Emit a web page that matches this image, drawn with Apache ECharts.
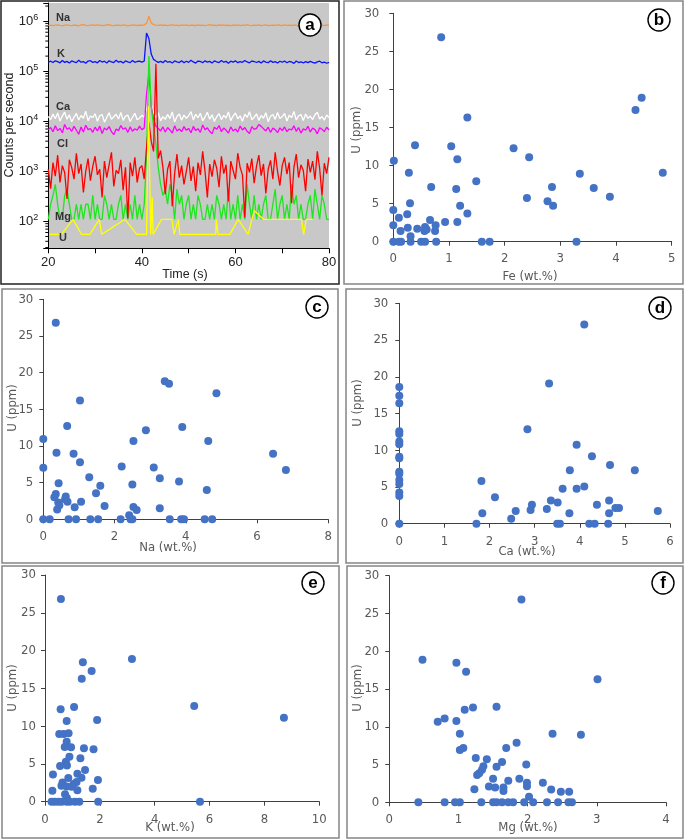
<!DOCTYPE html>
<html><head><meta charset="utf-8">
<script src="https://cdn.jsdelivr.net/npm/echarts@6/dist/echarts.min.js"></script>
<style>html,body{margin:0;padding:0;background:#fff}#c{width:685px;height:839px}</style>
</head><body><div id="c"></div>
<script>
// ---------- Panel a: time-resolved signals (counts per second), sampled every 0.5 s from 20 s ----------
const T0 = 20, DT = 0.5;
const naCounts = [
820e3,835e3,812e3,828e3,840e3,818e3,806e3,830e3,845e3,822e3,
815e3,832e3,826e3,808e3,838e3,850e3,824e3,812e3,829e3,836e3,
818e3,842e3,830e3,809e3,825e3,837e3,846e3,821e3,813e3,834e3,
827e3,815e3,840e3,832e3,806e3,822e3,838e3,829e3,817e3,833e3,
826e3,845e3,900e3,1250e3,920e3,850e3,832e3,818e3,840e3,826e3,
835e3,812e3,828e3,846e3,819e3,830e3,808e3,837e3,824e3,842e3,
816e3,831e3,827e3,809e3,843e3,822e3,835e3,814e3,828e3,846e3,
820e3,833e3,811e3,839e3,826e3,845e3,817e3,829e3,808e3,836e3,
824e3,840e3,815e3,830e3,819e3,847e3,826e3,812e3,835e3,821e3,
838e3,816e3,829e3,843e3,810e3,825e3,834e3,819e3,846e3,827e3,
813e3,839e3,822e3,830e3,817e3,844e3,826e3,808e3,835e3,823e3,
841e3,818e3,829e3,833e3,812e3,845e3,824e3,831e3,816e3,838e3,822e3];
const kCounts = [
152e3,158e3,149e3,161e3,155e3,147e3,163e3,150e3,157e3,145e3,
160e3,153e3,148e3,165e3,151e3,156e3,144e3,159e3,162e3,150e3,
155e3,147e3,163e3,152e3,158e3,146e3,161e3,154e3,149e3,166e3,
151e3,157e3,145e3,160e3,153e3,148e3,164e3,150e3,156e3,159e3,
152e3,158e3,580e3,450e3,220e3,172e3,160e3,150e3,157e3,148e3,
163e3,151e3,156e3,146e3,160e3,154e3,149e3,162e3,147e3,158e3,
150e3,165e3,153e3,145e3,159e3,156e3,148e3,161e3,152e3,157e3,
146e3,160e3,154e3,149e3,163e3,151e3,157e3,144e3,158e3,152e3,
161e3,148e3,155e3,150e3,164e3,153e3,147e3,159e3,156e3,149e3,
157e3,145e3,160e3,152e3,148e3,162e3,150e3,155e3,146e3,158e3,
151e3,159e3,147e3,156e3,153e3,143e3,160e3,149e3,154e3,146e3,
155e3,148e3,157e3,150e3,145e3,153e3,158e3,147e3,152e3,144e3,150e3];
const caCounts = [
12.5e3,10.8e3,13.9e3,11.2e3,14.6e3,10.1e3,12.8e3,15.2e3,11.0e3,13.4e3,
9.8e3,12.1e3,14.3e3,10.6e3,13.0e3,11.5e3,15.8e3,10.3e3,12.7e3,11.8e3,
14.1e3,10.0e3,12.9e3,13.6e3,9.6e3,11.9e3,14.8e3,10.9e3,12.3e3,13.8e3,
11.1e3,15.0e3,10.4e3,12.6e3,13.2e3,9.9e3,12.0e3,14.4e3,10.7e3,11.6e3,
13.1e3,12.2e3,18.0e3,60.0e3,22.0e3,15.0e3,11.8e3,14.9e3,10.2e3,12.4e3,
10.9e3,13.7e3,11.3e3,15.4e3,9.7e3,12.5e3,14.0e3,10.5e3,13.3e3,11.4e3,
12.9e3,15.6e3,10.6e3,13.8e3,11.7e3,14.5e3,10.2e3,12.2e3,15.1e3,11.0e3,
13.5e3,9.9e3,12.4e3,14.2e3,10.8e3,13.1e3,11.6e3,15.3e3,10.3e3,12.7e3,
14.6e3,11.2e3,12.8e3,10.0e3,13.9e3,11.9e3,15.5e3,10.7e3,12.0e3,14.1e3,
10.4e3,13.0e3,11.5e3,14.8e3,9.8e3,12.6e3,13.7e3,10.9e3,15.0e3,11.3e3,
12.3e3,14.4e3,10.1e3,13.2e3,11.8e3,15.7e3,10.6e3,12.9e3,13.6e3,10.3e3,
14.0e3,11.4e3,12.7e3,10.8e3,13.5e3,15.1e3,11.1e3,12.4e3,10.5e3,13.3e3,11.9e3];
const magentaCounts = [
6.8e3,7.5e3,6.2e3,8.1e3,6.5e3,7.2e3,5.9e3,8.6e3,6.9e3,7.4e3,
6.3e3,7.9e3,6.6e3,5.5e3,7.7e3,6.1e3,8.3e3,6.8e3,7.1e3,6.0e3,
7.6e3,6.4e3,8.0e3,5.7e3,7.3e3,6.7e3,7.8e3,6.2e3,5.4e3,7.0e3,
6.5e3,8.2e3,6.9e3,7.4e3,6.0e3,7.7e3,6.3e3,7.1e3,6.6e3,8.0e3,
6.8e3,7.3e3,35e3,90e3,20e3,11e3,8.0e3,7.2e3,6.4e3,7.7e3,
6.1e3,7.5e3,6.7e3,5.8e3,8.1e3,6.4e3,7.0e3,6.2e3,7.8e3,6.6e3,
7.2e3,5.9e3,7.9e3,6.5e3,7.1e3,6.0e3,8.4e3,6.8e3,7.4e3,6.3e3,
5.6e3,7.6e3,6.9e3,8.2e3,6.2e3,7.3e3,6.6e3,5.8e3,7.7e3,6.4e3,
7.0e3,6.1e3,8.0e3,6.7e3,7.5e3,6.3e3,5.7e3,7.8e3,6.9e3,7.2e3,
8.6e3,7.9e3,7.1e3,6.4e3,7.6e3,6.0e3,7.3e3,6.8e3,5.9e3,7.4e3,
6.5e3,7.7e3,6.2e3,7.0e3,6.7e3,8.1e3,6.3e3,7.5e3,5.8e3,7.1e3,
6.6e3,7.9e3,6.1e3,7.3e3,6.8e3,5.6e3,7.4e3,6.9e3,6.2e3,7.6e3,6.7e3];
const redCounts = [
1100,450,1500,800,2100,600,1300,950,280,1700,
1200,700,2300,900,1400,380,1000,1800,650,1250,
2000,850,1100,300,1600,750,1350,2400,500,1050,
900,1700,420,1200,115,1500,800,1900,600,1150,
1300,700,3000,9500,4000,2500,140000,1800,2600,1200,
350,1100,1600,200,900,2200,750,1300,550,1000,
1900,640,1250,400,1500,850,2500,1000,300,1400,
780,1700,1150,480,2000,900,1350,250,1600,1050,
700,2300,1200,850,120,1450,950,1800,580,1250,
2100,820,1400,360,1100,1650,700,2400,1000,520,
1300,1900,880,1500,230,1200,2200,750,1350,1050,
400,1750,950,1600,680,2500,1150,330,1450,900,1900];
const mgCounts = [
110,220,330,550,220,110,110,330,440,220,
110,110,220,110,220,110,220,220,110,330,
110,220,110,110,330,220,110,220,110,110,
220,330,110,220,110,220,110,330,110,220,
110,220,2000,200000,20000,8000,3500,1200,550,330,
440,220,550,330,110,440,220,330,110,220,
330,110,220,110,330,220,110,110,220,110,
220,110,330,220,110,220,110,440,110,220,
110,330,110,220,110,550,220,110,330,110,
220,110,220,330,110,110,220,440,110,220,
330,110,220,110,550,220,330,110,220,110,
110,220,330,110,440,220,110,330,220,110,110];
// U: sparse signal (irregular time stamps)
const uTimes  = [20.2,22.8,25.3,27.1,28.9,30.9,31.4,36.4,38.9,41.0,41.4,41.9,42.2,42.4,44.2,46.4,46.9,47.8,48.1,55.8,55.9,56.3,58.8,60.6,62.7,64.0,66.0,74.1,74.6,75.1,76.6];
const uCounts = [55,55,110,55,55,110,55,110,55,55,20000,55,300,55,110,110,55,110,55,55,110,55,55,110,55,165,110,110,55,110,110];
const logMinorTicks = [30,40,50,60,70,80,90,200,300,400,500,600,700,800,900,2000,3000,4000,5000,6000,7000,8000,9000,
  20000,30000,40000,50000,60000,70000,80000,90000,200000,300000,400000,500000,600000,700000,800000,900000,2000000];

// ---------- Panels b-f: U (ppm) versus element (wt.%) ----------
const feU = [[0.86,26.85],[4.46,18.9],[4.35,17.3],[1.33,16.3],[0.39,12.66],[1.04,12.53],[2.16,12.26],[2.44,11.08],[0.01,10.64],[1.15,10.82],[0.28,9.07],[4.84,9.07],[3.35,8.94],[1.49,7.93],[0.68,7.18],[2.85,7.18],[3.60,7.05],[1.13,6.92],[3.89,5.91],[2.40,5.74],[2.77,5.30],[0.30,5.04],[2.87,4.73],[1.20,4.73],[0.00,4.16],[1.33,3.72],[0.25,3.62],[0.10,3.15],[0.66,2.85],[0.93,2.58],[1.15,2.58],[0.00,2.15],[0.76,2.15],[0.26,1.84],[0.43,1.71],[0.57,1.92],[0.60,1.60],[0.13,1.41],[0.56,1.41],[0.75,1.41],[0.31,0.72],[0.00,0],[0.10,0],[0.14,0],[0.31,0],[0.50,0],[0.57,0],[0.77,0],[1.59,0],[1.73,0],[3.29,0]];
const naU = [[0.35,26.8],[3.41,18.82],[3.53,18.5],[4.86,17.2],[1.03,16.2],[0.67,12.73],[3.90,12.6],[2.88,12.14],[0,10.95],[2.53,10.68],[4.63,10.68],[0.37,9.09],[0.85,8.95],[6.45,8.95],[1.03,7.77],[0,7.02],[2.20,7.2],[3.10,7.05],[6.81,6.73],[1.29,5.73],[3.27,5.59],[3.81,5.16],[0.43,4.9],[2.50,4.75],[1.60,4.59],[4.59,4.0],[1.48,3.55],[0.35,3.45],[0.31,3.0],[0.63,3.1],[0.61,2.73],[0.42,2.3],[0.68,2.41],[1.06,2.41],[0.45,1.91],[1.72,1.82],[0.88,1.64],[2.53,1.68],[2.62,1.27],[3.27,1.5],[0.39,1.33],[2.41,0.55],[0,0],[0.18,0],[0.71,0],[0.92,0],[1.32,0],[1.54,0],[2.17,0],[2.45,0],[2.50,0],[3.55,0],[3.87,0],[3.95,0],[4.53,0],[4.74,0]];
const caU = [[4.10,27.1],[3.32,19.1],[0,18.6],[0,17.4],[0,16.4],[2.84,12.85],[0,12.6],[0,12.2],[0,11.2],[0,10.8],[3.93,10.76],[0,9.12],[0,8.9],[4.27,9.17],[4.67,7.99],[3.78,7.26],[5.22,7.26],[0,7.08],[0,6.8],[0,5.95],[0,5.4],[1.82,5.81],[3.62,4.77],[3.93,4.77],[4.10,5.06],[0,4.25],[0,3.77],[2.12,3.59],[3.36,3.15],[4.65,3.15],[3.51,2.88],[2.94,2.59],[4.38,2.59],[3.27,2.0],[2.91,1.86],[2.58,1.72],[4.79,2.15],[4.87,2.15],[1.84,1.41],[3.77,1.41],[4.65,1.41],[5.73,1.72],[2.48,0.68],[0,0],[1.71,0],[3.50,0],[3.56,0],[4.21,0],[4.33,0],[4.63,0]];
const kU = [[0.58,26.82],[3.17,18.9],[1.38,18.45],[1.70,17.3],[1.34,16.28],[5.44,12.66],[0.57,12.23],[1.06,12.53],[8.71,11.1],[0.79,10.68],[1.90,10.81],[0.52,8.96],[0.68,8.96],[0.86,9.05],[0.79,7.94],[0.72,7.25],[0.95,7.2],[1.42,7.06],[1.77,6.93],[0.89,5.96],[0.76,5.3],[1.29,5.74],[0.55,4.72],[0.80,4.8],[1.46,4.19],[0.29,3.6],[1.18,3.7],[0.85,3.15],[1.33,3.18],[1.93,2.87],[0.64,2.55],[1.04,2.35],[1.15,2.62],[0.79,2.0],[0.60,2.12],[0.97,1.98],[1.18,1.5],[1.74,1.72],[0.27,1.46],[0.73,1.0],[0.80,0.5],[0.24,0],[0.36,0],[0.49,0],[0.61,0],[0.79,0],[0.91,0],[1.09,0],[1.25,0],[1.94,0],[5.65,0]];
const mgU = [[1.91,26.86],[0.48,18.88],[0.97,18.48],[1.11,17.29],[3.01,16.3],[1.55,12.66],[1.21,12.55],[1.09,12.24],[0.70,10.65],[0.80,11.08],[0.97,10.78],[1.02,9.08],[2.36,9.08],[2.77,8.95],[1.84,7.9],[1.69,7.19],[1.07,7.2],[1.02,6.92],[1.25,5.86],[1.41,5.71],[1.63,5.33],[1.98,5.0],[1.55,4.72],[1.36,4.78],[1.34,4.3],[1.30,3.84],[1.27,3.61],[1.50,3.13],[1.88,3.13],[1.72,2.86],[1.99,2.6],[1.99,2.12],[2.22,2.58],[1.44,2.1],[1.53,1.96],[1.65,1.96],[1.65,1.48],[1.23,1.72],[2.34,1.7],[2.48,1.41],[2.60,1.41],[2.02,0.72],[0.42,0],[0.80,0],[0.95,0],[1.02,0],[1.33,0],[1.50,0],[1.55,0],[1.63,0],[1.72,0],[1.79,0],[1.95,0],[2.08,0],[2.28,0],[2.44,0],[2.59,0],[2.64,0]];

// ---------- layout ----------
const SCAT_FONT = "'Liberation Sans Narrow', 'DejaVu Sans Condensed', Lato";
const ARIAL = 'Liberation Sans';
const scatterPanels = [
  {data: feU, xmax: 5, xint: 1, grid: {left: 393.3, top: 13.3, width: 278.4, height: 228.4}, ym: 14, xm: 10},
  {data: naU, xmax: 8, xint: 2, grid: {left: 43.3, top: 299.3, width: 285, height: 220}, ym: 10, xm: 11},
  {data: caU, xmax: 6, xint: 1, grid: {left: 399.3, top: 303.3, width: 270.7, height: 220.4}, ym: 11, xm: 11},
  {data: kU, xmax: 10, xint: 2, grid: {left: 45, top: 575, width: 274.3, height: 226.7}, ym: 9, xm: 11},
  {data: mgU, xmax: 4, xint: 1, grid: {left: 389.3, top: 575.7, width: 276.7, height: 226.6}, ym: 10, xm: 11}
];

const grids = [{left: 48.3, top: 3, width: 280.7, height: 245.3, show: true, backgroundColor: '#c8c8c8', borderWidth: 0}];
const xAxes = [{
  gridIndex: 0, type: 'value', min: 20, max: 80, interval: 10,
  axisLine: {show: true, onZero: false, lineStyle: {color: '#000', width: 1}},
  axisTick: {show: true, length: 5, lineStyle: {color: '#000'}},
  axisLabel: {margin: 8, fontSize: 13, color: '#222', fontFamily: ARIAL, formatter: v => (v % 20 === 0 ? String(v) : '')},
  splitLine: {show: false}
}];
const yAxes = [{
  gridIndex: 0, type: 'log', logBase: 10, min: 29, max: 2.3e6,
  axisLine: {show: true, onZero: false, lineStyle: {color: '#000', width: 1}},
  axisTick: {show: true, length: 5, lineStyle: {color: '#000'}},
  axisLabel: {margin: 10, color: '#222', fontFamily: ARIAL,
    formatter: v => { const e = Math.log10(v); const r = Math.round(e); return Math.abs(e - r) < 1e-6 ? '{b|10}{s|' + r + '}' : ''; },
    rich: {b: {fontSize: 13, fontFamily: ARIAL, color: '#222'}, s: {fontSize: 9, fontFamily: ARIAL, color: '#222', padding: [0, 0, 8, 0]}}},
  splitLine: {show: false}
}];
scatterPanels.forEach((p, i) => {
  const gi = i + 1;
  grids.push(Object.assign({}, p.grid));
  xAxes.push({gridIndex: gi, type: 'value', min: 0, max: p.xmax, interval: p.xint,
    axisLine: {show: true, onZero: false, lineStyle: {color: '#404040', width: 1}},
    axisTick: {show: true, length: 4, lineStyle: {color: '#404040'}},
    axisLabel: {margin: p.xm, fontSize: 13, color: '#595959', fontFamily: SCAT_FONT},
    splitLine: {show: false}});
  yAxes.push({gridIndex: gi, type: 'value', min: 0, max: 30, interval: 5,
    axisLine: {show: true, onZero: false, lineStyle: {color: '#404040', width: 1}},
    axisTick: {show: true, length: 4, lineStyle: {color: '#404040'}},
    axisLabel: {margin: p.ym, fontSize: 13, color: '#595959', fontFamily: SCAT_FONT},
    splitLine: {show: false}});
});

function uniform(arr) { return arr.map((v, i) => [T0 + i * DT, v]); }
function lineSeries(name, data, color) {
  return {name, type: 'line', xAxisIndex: 0, yAxisIndex: 0, data, symbol: 'none', showSymbol: false,
    lineStyle: {color, width: 1.3}, itemStyle: {color}, silent: true, animation: false};
}
const series = [
  lineSeries('Na', uniform(naCounts), '#f7963f'),
  lineSeries('K', uniform(kCounts), '#0a14ff'),
  lineSeries('Ca', uniform(caCounts), '#ffffff'),
  lineSeries('Ca (2)', uniform(magentaCounts), '#ff00ff'),
  lineSeries('Mg', uniform(mgCounts), '#1ee61e'),
  lineSeries('Cl', uniform(redCounts), '#ff0000'),
  lineSeries('U', uTimes.map((t, i) => [t, uCounts[i]]), '#ffff00'),
  {type: 'custom', xAxisIndex: 0, yAxisIndex: 0, silent: true, clip: false,
    data: logMinorTicks.map(v => [T0, v]),
    renderItem: (params, api) => {
      const p = api.coord([api.value(0), api.value(1)]);
      return {type: 'line', shape: {x1: p[0] - 3, y1: p[1], x2: p[0], y2: p[1]}, style: {stroke: '#000', lineWidth: 1}};
    }}
];
scatterPanels.forEach((p, i) => {
  series.push({type: 'scatter', xAxisIndex: i + 1, yAxisIndex: i + 1, data: p.data, symbol: 'circle', symbolSize: 8,
    itemStyle: {color: '#4472c4', opacity: 1}, clip: false, silent: true});
});

// ---------- decorations ----------
const graphics = [];
const frames = [
  {x: 1, y: 1, w: 338, h: 283, c: '#222'},
  {x: 344, y: 1, w: 339, h: 283, c: '#858585'},
  {x: 2, y: 289, w: 336, h: 274, c: '#858585'},
  {x: 346, y: 289, w: 337, h: 274, c: '#858585'},
  {x: 2, y: 566, w: 337, h: 272, c: '#858585'},
  {x: 347, y: 566, w: 336, h: 272, c: '#858585'}
];
frames.forEach(f => graphics.push({type: 'rect', shape: {x: f.x, y: f.y, width: f.w, height: f.h}, style: {fill: 'none', stroke: f.c, lineWidth: 1.5}, silent: true, z: 10}));
const letters = [['a', 310, 25], ['b', 659, 20], ['c', 317, 307], ['d', 660, 308], ['e', 313, 583], ['f', 663, 583]];
letters.forEach(([t, x, y]) => {
  graphics.push({type: 'circle', shape: {cx: x, cy: y, r: 11}, style: {fill: '#fff', stroke: '#000', lineWidth: 1.4}, z: 20, silent: true});
  graphics.push({type: 'text', x: x, y: y, style: {text: t, fill: '#000', font: 'bold 17px ' + ARIAL, align: 'center', verticalAlign: 'middle'}, z: 21, silent: true});
});
const titles = [
  ['Counts per second', 10, 125, true, ARIAL, '#222', 12.5],
  ['Time (s)', 185, 275, false, ARIAL, '#222', 12.5],
  ['U (ppm)', 357, 130, true, SCAT_FONT, '#595959', 13],
  ['Fe (wt.%)', 530, 277, false, SCAT_FONT, '#595959', 13],
  ['U (ppm)', 13, 408, true, SCAT_FONT, '#595959', 13],
  ['Na (wt.%)', 168, 548, false, SCAT_FONT, '#595959', 13],
  ['U (ppm)', 358, 403, true, SCAT_FONT, '#595959', 13],
  ['Ca (wt.%)', 527, 552, false, SCAT_FONT, '#595959', 13],
  ['U (ppm)', 13, 688, true, SCAT_FONT, '#595959', 13],
  ['K (wt.%)', 170, 828, false, SCAT_FONT, '#595959', 13],
  ['U (ppm)', 358, 688, true, SCAT_FONT, '#595959', 13],
  ['Mg (wt.%)', 528, 828, false, SCAT_FONT, '#595959', 13]
];
titles.forEach(([t, x, y, rot, ff, col, fs]) => {
  graphics.push({type: 'text', x: x, y: y, rotation: rot ? Math.PI / 2 : 0,
    style: {text: t, fill: col, font: fs + 'px ' + ff, align: 'center', verticalAlign: 'middle'}, z: 15, silent: true});
});
const elementLabels = [['Na', 56, 18], ['K', 57, 54], ['Ca', 56, 107], ['Cl', 57, 144], ['Mg', 55, 217], ['U', 59, 238]];
elementLabels.forEach(([t, x, y]) => {
  graphics.push({type: 'text', x: x, y: y, style: {text: t, fill: '#333', font: 'bold 11px ' + ARIAL, align: 'left', verticalAlign: 'middle'}, z: 15, silent: true});
});

const chart = echarts.init(document.getElementById('c'), null, {renderer: 'canvas', width: 685, height: 839});
chart.setOption({
  animation: false,
  backgroundColor: '#ffffff',
  grid: grids, xAxis: xAxes, yAxis: yAxes, series: series,
  graphic: {elements: graphics}
});
</script>
</body></html>
